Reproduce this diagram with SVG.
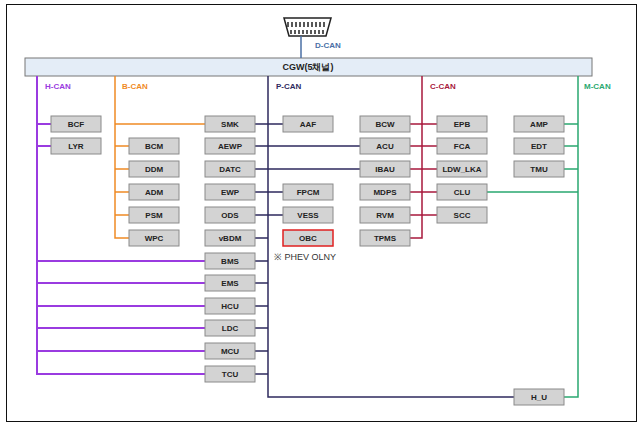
<svg xmlns="http://www.w3.org/2000/svg" width="642" height="426" viewBox="0 0 642 426">
<style>
.n rect{fill:#d3d3d3;stroke:#8a8a8a;stroke-width:1}
.n text{font-family:"Liberation Sans",Arial,sans-serif;font-size:8px;font-weight:bold;fill:#222;text-anchor:middle}
.lbl{font-family:"Liberation Sans",Arial,sans-serif;font-size:8px;font-weight:bold}
.h{stroke:#9a3be0;stroke-width:2;fill:none}
.b{stroke:#f08a24;stroke-width:1.5;fill:none}
.p{stroke:#2e2a5e;stroke-width:1.5;fill:none}
.c{stroke:#a8183c;stroke-width:1.5;fill:none}
.m{stroke:#2aa870;stroke-width:1.5;fill:none}
</style>
<rect x="0" y="0" width="642" height="426" fill="#fff"/>
<rect x="6.5" y="4.5" width="630" height="417" fill="none" stroke="#111" stroke-width="1"/>
<g id="obd">
<path d="M284,18 H331 L326,36 H289 Z" fill="#fff" stroke="#222" stroke-width="1.5"/>
<path d="M288,22 v5 M292,22 v5 M296,22 v5 M300,22 v5 M304,22 v5 M308,22 v5 M312,22 v5 M316,22 v5 M320,22 v5 M324,22 v5 M291,30 v4 M295,30 v4 M299,30 v4 M303,30 v4 M307,30 v4 M311,30 v4 M315,30 v4 M319,30 v4 M323,30 v4" stroke="#222" stroke-width="1.5"/>
</g>
<g id="cgw" class="n"><rect x="25" y="58" width="567" height="18" style="fill:#e4edf7;stroke:#777"/><text x="308" y="70" style="font-size:9px">CGW(5채널)</text></g>
<g id="connectors">
<path d="M301,36 V58" stroke="#4a6fa5" stroke-width="1.5"/>
<path class="h" d="M37,76 V375 M37,124 H51 M37,146 H51 M37,261 H205 M37,283 H205 M37,306 H205 M37,328 H205 M37,351 H205 M37,374 H205"/>
<path class="b" d="M115,76 V238 H129 M115,124 H205 M115,146 H129 M115,169 H129 M115,192 H129 M115,215 H129"/>
<path class="p" d="M268,76 V397 H514 M255,124 H283 M255,146 H360 M255,169 H360 M255,192 H283 M255,215 H283 M255,238 H268 M255,261 H268 M255,283 H268 M255,306 H268 M255,328 H268 M255,351 H268 M255,374 H268"/>
<path class="c" d="M422,76 V238 H410 M410,124 H437 M410,146 H437 M410,169 H437 M410,192 H437 M410,215 H437"/>
<path class="m" d="M578,76 V397 H564 M564,124 H578 M564,146 H578 M564,169 H578 M487,192 H578"/>
</g>
<text class="lbl" x="315" y="48" fill="#4a6fa5">D-CAN</text>
<text class="lbl" x="45" y="89" fill="#9a3be0">H-CAN</text>
<text class="lbl" x="122" y="89" fill="#f08a24">B-CAN</text>
<text class="lbl" x="276" y="89" fill="#2e2a5e">P-CAN</text>
<text class="lbl" x="430" y="89" fill="#a8183c">C-CAN</text>
<text class="lbl" x="584" y="89" fill="#2aa870">M-CAN</text>
<g id="BCF" class="n"><rect x="51" y="116" width="50" height="16"/><text x="76" y="127">BCF</text></g>
<g id="LYR" class="n"><rect x="51" y="138" width="50" height="16"/><text x="76" y="149">LYR</text></g>
<g id="BCM" class="n"><rect x="129" y="138" width="50" height="16"/><text x="154" y="149">BCM</text></g>
<g id="DDM" class="n"><rect x="129" y="161" width="50" height="16"/><text x="154" y="172">DDM</text></g>
<g id="ADM" class="n"><rect x="129" y="184" width="50" height="16"/><text x="154" y="195">ADM</text></g>
<g id="PSM" class="n"><rect x="129" y="207" width="50" height="16"/><text x="154" y="218">PSM</text></g>
<g id="WPC" class="n"><rect x="129" y="230" width="50" height="16"/><text x="154" y="241">WPC</text></g>
<g id="SMK" class="n"><rect x="205" y="116" width="50" height="16"/><text x="230" y="127">SMK</text></g>
<g id="AEWP" class="n"><rect x="205" y="138" width="50" height="16"/><text x="230" y="149">AEWP</text></g>
<g id="DATC" class="n"><rect x="205" y="161" width="50" height="16"/><text x="230" y="172">DATC</text></g>
<g id="EWP" class="n"><rect x="205" y="184" width="50" height="16"/><text x="230" y="195">EWP</text></g>
<g id="ODS" class="n"><rect x="205" y="207" width="50" height="16"/><text x="230" y="218">ODS</text></g>
<g id="vBDM" class="n"><rect x="205" y="230" width="50" height="16"/><text x="230" y="241">vBDM</text></g>
<g id="BMS" class="n"><rect x="205" y="253" width="50" height="16"/><text x="230" y="264">BMS</text></g>
<g id="EMS" class="n"><rect x="205" y="275" width="50" height="16"/><text x="230" y="286">EMS</text></g>
<g id="HCU" class="n"><rect x="205" y="298" width="50" height="16"/><text x="230" y="309">HCU</text></g>
<g id="LDC" class="n"><rect x="205" y="320" width="50" height="16"/><text x="230" y="331">LDC</text></g>
<g id="MCU" class="n"><rect x="205" y="343" width="50" height="16"/><text x="230" y="354">MCU</text></g>
<g id="TCU" class="n"><rect x="205" y="366" width="50" height="16"/><text x="230" y="377">TCU</text></g>
<g id="AAF" class="n"><rect x="283" y="116" width="50" height="16"/><text x="308" y="127">AAF</text></g>
<g id="FPCM" class="n"><rect x="283" y="184" width="50" height="16"/><text x="308" y="195">FPCM</text></g>
<g id="VESS" class="n"><rect x="283" y="207" width="50" height="16"/><text x="308" y="218">VESS</text></g>
<g id="OBC" class="n"><rect x="283" y="230" width="50" height="16" style="stroke:#e02020;stroke-width:1.5"/><text x="308" y="241">OBC</text></g>
<text x="274" y="260" font-family="Liberation Sans,Arial,sans-serif" font-size="9" fill="#333">※ PHEV OLNY</text>
<g id="BCW" class="n"><rect x="360" y="116" width="50" height="16"/><text x="385" y="127">BCW</text></g>
<g id="ACU" class="n"><rect x="360" y="138" width="50" height="16"/><text x="385" y="149">ACU</text></g>
<g id="IBAU" class="n"><rect x="360" y="161" width="50" height="16"/><text x="385" y="172">IBAU</text></g>
<g id="MDPS" class="n"><rect x="360" y="184" width="50" height="16"/><text x="385" y="195">MDPS</text></g>
<g id="RVM" class="n"><rect x="360" y="207" width="50" height="16"/><text x="385" y="218">RVM</text></g>
<g id="TPMS" class="n"><rect x="360" y="230" width="50" height="16"/><text x="385" y="241">TPMS</text></g>
<g id="EPB" class="n"><rect x="437" y="116" width="50" height="16"/><text x="462" y="127">EPB</text></g>
<g id="FCA" class="n"><rect x="437" y="138" width="50" height="16"/><text x="462" y="149">FCA</text></g>
<g id="LDW_LKA" class="n"><rect x="437" y="161" width="50" height="16"/><text x="462" y="172">LDW_LKA</text></g>
<g id="CLU" class="n"><rect x="437" y="184" width="50" height="16"/><text x="462" y="195">CLU</text></g>
<g id="SCC" class="n"><rect x="437" y="207" width="50" height="16"/><text x="462" y="218">SCC</text></g>
<g id="AMP" class="n"><rect x="514" y="116" width="50" height="16"/><text x="539" y="127">AMP</text></g>
<g id="EDT" class="n"><rect x="514" y="138" width="50" height="16"/><text x="539" y="149">EDT</text></g>
<g id="TMU" class="n"><rect x="514" y="161" width="50" height="16"/><text x="539" y="172">TMU</text></g>
<g id="H_U" class="n"><rect x="514" y="389" width="50" height="16"/><text x="539" y="400">H_U</text></g>
</svg>
